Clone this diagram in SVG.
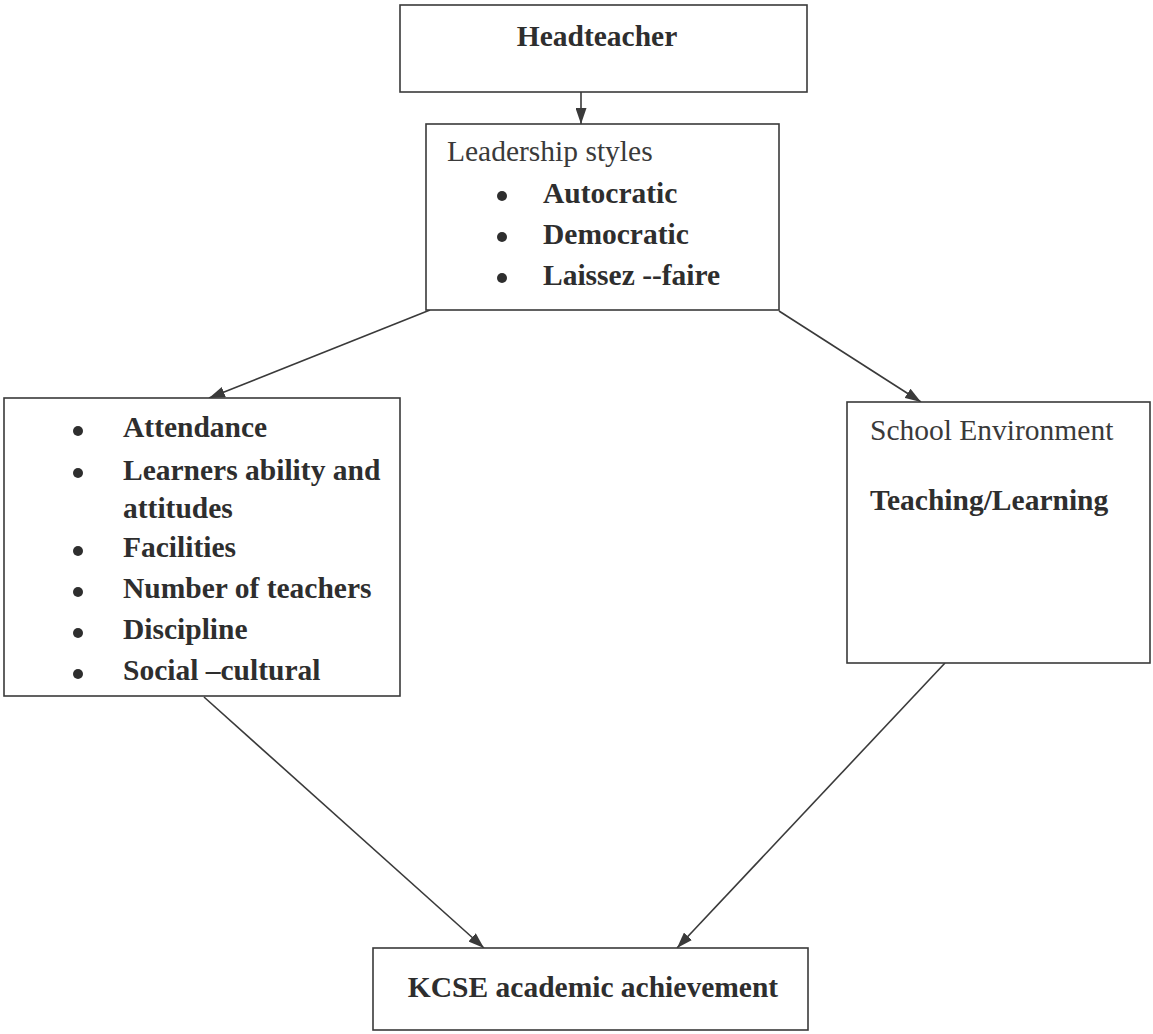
<svg xmlns="http://www.w3.org/2000/svg" width="1153" height="1034" viewBox="0 0 1153 1034">
<defs>
<marker id="ah" viewBox="0 0 16 11" refX="16" refY="5.5" markerWidth="16" markerHeight="11" markerUnits="userSpaceOnUse" orient="auto">
<path d="M0,0 L16,5.5 L0,11 Z" fill="#3a3a3a"/>
</marker>
<style>
.box{fill:#fff;stroke:#3a3a3a;stroke-width:1.6}
.b{font-family:"Liberation Serif",serif;font-weight:bold;font-size:29.5px;fill:#2e2e2e}
.r{font-family:"Liberation Serif",serif;font-size:29.5px;fill:#3a3a3a}
.dot{fill:#2e2e2e}
.c{stroke:#3a3a3a;stroke-width:1.6;fill:none;marker-end:url(#ah)}
</style>
</defs>
<rect width="1153" height="1034" fill="#fff"/>
<g id="connectors">
<line class="c" x1="581" y1="92" x2="581" y2="124"/>
<line class="c" x1="430" y1="310" x2="209" y2="398"/>
<line class="c" x1="779" y1="311" x2="921" y2="402"/>
<line class="c" x1="204" y1="697" x2="484" y2="948"/>
<line class="c" x1="945" y1="663" x2="677" y2="948"/>
</g>
<g id="headteacher">
<rect class="box" x="400" y="5" width="407" height="87"/>
<text class="b" x="597" y="46" text-anchor="middle">Headteacher</text>
</g>
<g id="leadership">
<rect class="box" x="426" y="124" width="353" height="186"/>
<text class="r" x="447" y="161">Leadership styles</text>
<circle class="dot" cx="502" cy="196" r="5"/>
<text class="b" x="543" y="203">Autocratic</text>
<circle class="dot" cx="502" cy="237" r="5"/>
<text class="b" x="543" y="244">Democratic</text>
<circle class="dot" cx="502" cy="278" r="5"/>
<text class="b" x="543" y="285">Laissez --faire</text>
</g>
<g id="factors">
<rect class="box" x="4" y="398" width="396" height="298"/>
<circle class="dot" cx="78" cy="431" r="5"/>
<text class="b" x="123" y="437">Attendance</text>
<circle class="dot" cx="78" cy="473" r="5"/>
<text class="b" x="123" y="480">Learners ability and</text>
<text class="b" x="123" y="518">attitudes</text>
<circle class="dot" cx="78" cy="551" r="5"/>
<text class="b" x="123" y="557">Facilities</text>
<circle class="dot" cx="78" cy="592" r="5"/>
<text class="b" x="123" y="598">Number of teachers</text>
<circle class="dot" cx="78" cy="633" r="5"/>
<text class="b" x="123" y="639">Discipline</text>
<circle class="dot" cx="78" cy="674" r="5"/>
<text class="b" x="123" y="680">Social –cultural</text>
</g>
<g id="environment">
<rect class="box" x="847" y="402" width="303" height="261"/>
<text class="r" x="870" y="440">School Environment</text>
<text class="b" x="870" y="510">Teaching/Learning</text>
</g>
<g id="kcse">
<rect class="box" x="373" y="948" width="435" height="82"/>
<text class="b" x="593" y="997" text-anchor="middle">KCSE academic achievement</text>
</g>
</svg>
